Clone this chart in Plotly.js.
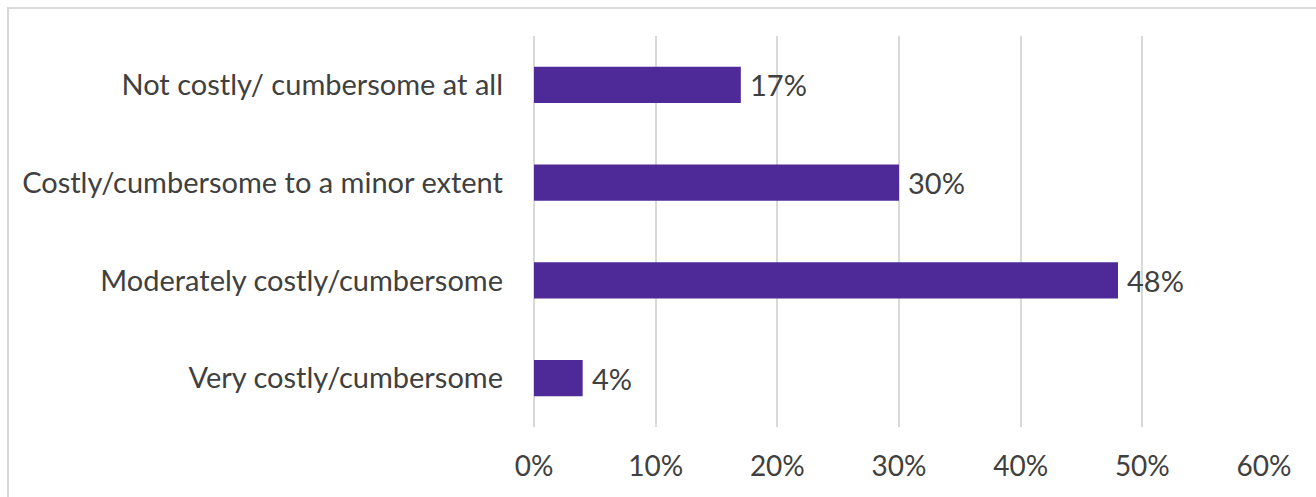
<!DOCTYPE html>
<html>
<head>
<meta charset="utf-8">
<script src="https://cdn.plot.ly/plotly-3.0.1.min.js"></script>
<style>
html,body{margin:0;padding:0;background:#fff;}
#wrap{position:absolute;left:0;top:0;width:1316px;height:497px;overflow:hidden;}
#frame{position:absolute;left:7px;top:7px;width:1400px;height:600px;border-left:2px solid #d9d9d9;border-top:2px solid #d9d9d9;}
#chart{position:absolute;left:0;top:0;width:1316px;height:497px;}
</style>
</head>
<body>
<div id="wrap">
<div id="frame"></div>
<div id="chart"></div>
</div>
<script>
const categories = ["Not costly/ cumbersome at all", "Costly/cumbersome to a minor extent", "Moderately costly/cumbersome", "Very costly/cumbersome"];
const values = [17, 30, 48, 4];
const valueLabels = ["17%", "30%", "48%", "4%"];
const tickValues = [0, 10, 20, 30, 40, 50, 60];
const tickLabels = ["0%", "10%", "20%", "30%", "40%", "50%", "60%"];

const fontFam = "Lato, 'Open Sans', sans-serif";
const trace = {
  type: "bar",
  orientation: "h",
  x: values,
  y: categories,
  marker: {color: "#4e2a98", line: {width: 0}},
  hoverinfo: "none"
};
const annotations = categories.map((c, i) => ({
  x: values[i], y: c, xref: "x", yref: "y",
  text: valueLabels[i], showarrow: false,
  xanchor: "left", yanchor: "middle", xshift: 7,
  font: {family: fontFam, size: 29, color: "#404040"}
}));
const layout = {
  width: 1316, height: 497,
  paper_bgcolor: "rgba(0,0,0,0)", plot_bgcolor: "rgba(0,0,0,0)",
  margin: {l: 534, r: 52, t: 36, b: 70},
  bargap: 0.63,
  showlegend: false,
  font: {family: fontFam, size: 28, color: "#404040"},
  xaxis: {
    range: [0, 60], tickvals: tickValues, ticktext: tickLabels,
    showgrid: true, gridcolor: "#d9d9d9", gridwidth: 2,
    zeroline: true, zerolinecolor: "#d9d9d9", zerolinewidth: 2,
    showline: false, ticks: "", ticklabelstandoff: 20,
    tickfont: {family: fontFam, size: 28, color: "#404040"},
    fixedrange: true
  },
  yaxis: {
    autorange: "reversed", showgrid: false, zeroline: false, showline: false,
    ticks: "", ticklabelstandoff: 30,
    tickfont: {family: fontFam, size: 29, color: "#404040"},
    fixedrange: true
  },
  annotations: annotations
};
Plotly.newPlot("chart", [trace], layout, {displayModeBar: false, staticPlot: true});
</script>
</body>
</html>
